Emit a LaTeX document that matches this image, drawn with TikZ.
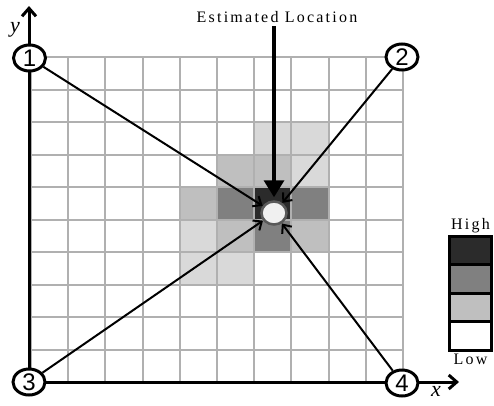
\documentclass[tikz,border=0pt]{standalone}
\usepackage{fontspec}
\setmainfont{Liberation Serif}
\newfontfamily\digitfont{Liberation Sans}
\usetikzlibrary{shapes.geometric, arrows.meta, positioning}

\definecolor{heatfour}{gray}{0.17}
\definecolor{heatthree}{gray}{0.50}
\definecolor{heattwo}{gray}{0.75}
\definecolor{heatone}{gray}{0.85}
\definecolor{gridgray}{gray}{0.69}

\begin{document}
\begin{tikzpicture}[
    x=1pt, y=-1pt,
    font=\fontsize{16}{16}\selectfont\addfontfeatures{LetterSpace=14},
    gridline/.style={draw=gridgray, line width=2pt},
    axis/.style={line width=3pt, -{Straight Barb[length=8pt, width=14pt]}},
    beacon/.style={ellipse, draw=black, fill=white, line width=3pt, minimum width=32pt, minimum height=26pt, inner sep=0pt, font=\digitfont\fontsize{24}{24}\selectfont},
    estimate/.style={ellipse, draw=black!65, fill=white!94!black, line width=2.5pt, minimum width=25pt, minimum height=23pt, inner sep=0pt},
    link/.style={line width=2pt, -{Straight Barb[length=7pt, width=12pt]}},
    pointer/.style={line width=3.5pt, -{Triangle[length=17pt, width=20pt]}, shorten >=3pt},
    legbox/.style={draw=black, line width=3pt, outer sep=0pt, minimum width=42pt, minimum height=28.5pt, inner sep=0pt},
    axislabel/.style={font=\fontsize{22}{22}\selectfont\itshape}
]
\useasboundingbox (0,0) rectangle (494,405);

% heat map cells
\foreach \c/\r/\s in {6/2/heatone, 7/2/heatone,
    5/3/heattwo, 6/3/heattwo, 7/3/heatone,
    4/4/heattwo, 5/4/heatthree, 6/4/heatfour, 7/4/heatthree,
    4/5/heatone, 5/5/heattwo, 6/5/heatthree, 7/5/heattwo,
    4/6/heatone, 5/6/heatone}
    \fill[\s] ({31+37.2*\c},{57+32.5*\r}) rectangle ({31+37.2*(\c+1)},{57+32.5*(\r+1)});

% grid
\foreach \i in {0,...,10} {
    \draw[gridline] ({31+37.2*\i},57) -- ({31+37.2*\i},382);
    \draw[gridline] (31,{57+32.5*\i}) -- (403,{57+32.5*\i});
}

% axes
\coordinate (origin) at (29,382);
\coordinate (ytip) at (29,6);
\coordinate (xtip) at (459,382);
\draw[axis] (origin) -- (ytip);
\draw[axis] (origin) -- (xtip);
\node[axislabel] (ylabel) at (15,30) {y};
\node[axislabel] (xlabel) at (436,391) {x};

% anchor nodes and estimate
\node[beacon] (n1) at (29.5,58) {1};
\node[beacon] (n2) at (402,57) {2};
\node[beacon] (n3) at (29,382) {3};
\node[beacon] (n4) at (402,383) {4};
\node[estimate] (est) at (274,213) {};

\path
    (n1) edge[link] (est)
    (n2) edge[link] (est)
    (n3) edge[link] (est)
    (n4) edge[link] (est);

\node (estlabel) at (277,17) {Estimated Location};
\draw[pointer] (estlabel.south -| est) -- (est);

% legend
\node[legbox, fill=heatfour] (leg4) at (470.5,250.5) {};
\node[legbox, fill=heatthree, below=0pt of leg4] (leg3) {};
\node[legbox, fill=heattwo, below=0pt of leg3] (leg2) {};
\node[legbox, fill=white, below=0pt of leg2] (leg1) {};
\node[above=0pt of leg4] (high) {High};
\node[below=0pt of leg1] (low) {Low};

\end{tikzpicture}
\end{document}
